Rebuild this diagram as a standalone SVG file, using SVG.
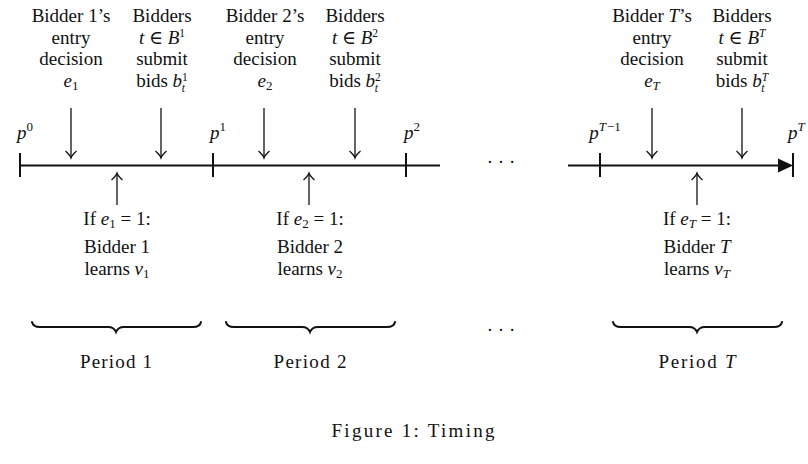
<svg xmlns="http://www.w3.org/2000/svg" width="808" height="464" viewBox="0 0 808 464">
<defs>
<style>
text{font-family:"Liberation Serif","DejaVu Serif",serif;font-size:19px;fill:#111;text-anchor:middle}
.i{font-style:italic}
.s{font-size:13px}
.u{font-size:11.5px}
.ln{stroke:#111;stroke-width:1.3;fill:none}
.ax{stroke:#111;stroke-width:2;fill:none}
.br{stroke:#111;stroke-width:2;fill:none;stroke-linecap:round}
</style>
<marker id="ch" viewBox="-8 -6 10 12" markerWidth="10" markerHeight="12" refX="0" refY="0" orient="auto" markerUnits="userSpaceOnUse">
<path d="M-7,-5.5 Q-3,-1 0,0 Q-3,1 -7,5.5" fill="none" stroke="#111" stroke-width="1.2"/>
</marker>
</defs>
<rect width="808" height="464" fill="#fff"/>

<g id="timeline">
<line class="ax" x1="20" y1="165.5" x2="440" y2="165.5"/>
<line class="ax" x1="568" y1="165.5" x2="780" y2="165.5"/>
<path d="M778,158.5 L793,165.5 L778,172.5 Z" fill="#111"/>
<line class="ax" x1="20" y1="153" x2="20" y2="177"/>
<line class="ax" x1="213" y1="153" x2="213" y2="177"/>
<line class="ax" x1="406" y1="153" x2="406" y2="177"/>
<line class="ax" x1="600" y1="153" x2="600" y2="177"/>
<line class="ax" x1="793" y1="153" x2="793" y2="177"/>
<text x="501" y="168" font-size="18">· · ·</text>
</g>

<g id="prices">
<text x="25" y="139"><tspan class="i">p</tspan><tspan class="s" dy="-8">0</tspan></text>
<text x="218" y="139"><tspan class="i">p</tspan><tspan class="s" dy="-8">1</tspan></text>
<text x="412" y="139"><tspan class="i">p</tspan><tspan class="s" dy="-8">2</tspan></text>
<text x="605" y="139"><tspan class="i">p</tspan><tspan class="s i" dy="-8">T</tspan><tspan class="s" dx="1">−1</tspan></text>
<text x="788" y="139" style="text-anchor:start"><tspan class="i">p</tspan><tspan class="s i" dy="-8">T</tspan></text>
</g>

<g id="period1">
<text x="71" y="22">Bidder 1’s</text>
<text x="71" y="44">entry</text>
<text x="71" y="65">decision</text>
<text x="71" y="87"><tspan class="i">e</tspan><tspan class="s" dy="3">1</tspan></text>
<text x="162" y="22">Bidders</text>
<text x="162" y="44"><tspan class="i">t</tspan> ∈ <tspan class="i">B</tspan><tspan class="u" dy="-7">1</tspan></text>
<text x="162" y="65">submit</text>
<text x="162" y="87">bids <tspan class="i">b</tspan><tspan class="u" dy="-6">1</tspan><tspan class="u i" dx="-6" dy="11">t</tspan></text>
<text x="117" y="225">If <tspan class="i">e</tspan><tspan class="s" dy="3">1</tspan><tspan dy="-3"> = 1:</tspan></text>
<text x="117" y="253">Bidder 1</text>
<text x="117" y="275">learns <tspan class="i">v</tspan><tspan class="s" dy="3">1</tspan></text>
<text x="116" y="368" textLength="72" lengthAdjust="spacing">Period 1</text>
</g>

<g id="period2">
<text x="265" y="22">Bidder 2’s</text>
<text x="265" y="44">entry</text>
<text x="265" y="65">decision</text>
<text x="265" y="87"><tspan class="i">e</tspan><tspan class="s" dy="3">2</tspan></text>
<text x="355" y="22">Bidders</text>
<text x="355" y="44"><tspan class="i">t</tspan> ∈ <tspan class="i">B</tspan><tspan class="u" dy="-7">2</tspan></text>
<text x="355" y="65">submit</text>
<text x="355" y="87">bids <tspan class="i">b</tspan><tspan class="u" dy="-6">2</tspan><tspan class="u i" dx="-6" dy="11">t</tspan></text>
<text x="310" y="225">If <tspan class="i">e</tspan><tspan class="s" dy="3">2</tspan><tspan dy="-3"> = 1:</tspan></text>
<text x="310" y="253">Bidder 2</text>
<text x="310" y="275">learns <tspan class="i">v</tspan><tspan class="s" dy="3">2</tspan></text>
<text x="310" y="368" textLength="73" lengthAdjust="spacing">Period 2</text>
</g>

<g id="periodT">
<text x="652" y="22">Bidder <tspan class="i">T</tspan>’s</text>
<text x="652" y="44">entry</text>
<text x="652" y="65">decision</text>
<text x="652" y="87"><tspan class="i">e</tspan><tspan class="s i" dy="3">T</tspan></text>
<text x="742" y="22">Bidders</text>
<text x="742" y="44"><tspan class="i">t</tspan> ∈ <tspan class="i">B</tspan><tspan class="u i" dy="-7">T</tspan></text>
<text x="742" y="65">submit</text>
<text x="742" y="87">bids <tspan class="i">b</tspan><tspan class="u i" dy="-6">T</tspan><tspan class="u i" dx="-7" dy="11">t</tspan></text>
<text x="697" y="225">If <tspan class="i">e</tspan><tspan class="s i" dy="3">T</tspan><tspan dy="-3"> = 1:</tspan></text>
<text x="697" y="253">Bidder <tspan class="i">T</tspan></text>
<text x="697" y="275">learns <tspan class="i">v</tspan><tspan class="s i" dy="3">T</tspan></text>
<text x="697" y="368" textLength="77" lengthAdjust="spacing">Period <tspan class="i">T</tspan></text>
</g>

<g id="connectors">
<line class="ln" x1="71" y1="108" x2="71" y2="158" marker-end="url(#ch)"/>
<line class="ln" x1="161" y1="108" x2="161" y2="158" marker-end="url(#ch)"/>
<line class="ln" x1="264" y1="108" x2="264" y2="158" marker-end="url(#ch)"/>
<line class="ln" x1="355" y1="108" x2="355" y2="158" marker-end="url(#ch)"/>
<line class="ln" x1="652" y1="108" x2="652" y2="158" marker-end="url(#ch)"/>
<line class="ln" x1="742" y1="108" x2="742" y2="158" marker-end="url(#ch)"/>
<line class="ln" x1="117" y1="205" x2="117" y2="173" marker-end="url(#ch)"/>
<line class="ln" x1="309" y1="205" x2="309" y2="173" marker-end="url(#ch)"/>
<line class="ln" x1="697" y1="205" x2="697" y2="173" marker-end="url(#ch)"/>
</g>

<g id="braces">
<path class="br" d="M32,322 Q33,327 40,327 L108,327 Q114,327 116,332 Q118,327 124,327 L193,327 Q200,327 201,322"/>
<path class="br" d="M226,322 Q227,327 234,327 L302,327 Q308,327 310,332 Q312,327 318,327 L387,327 Q394,327 395,322"/>
<path class="br" d="M613,322 Q614,327 621,327 L689,327 Q695,327 697,332 Q699,327 705,327 L774,327 Q781,327 782,322"/>
<text x="501" y="336" font-size="18">· · ·</text>
</g>

<text x="413" y="437" font-size="21" textLength="163" lengthAdjust="spacing">Figure 1: Timing</text>
</svg>
